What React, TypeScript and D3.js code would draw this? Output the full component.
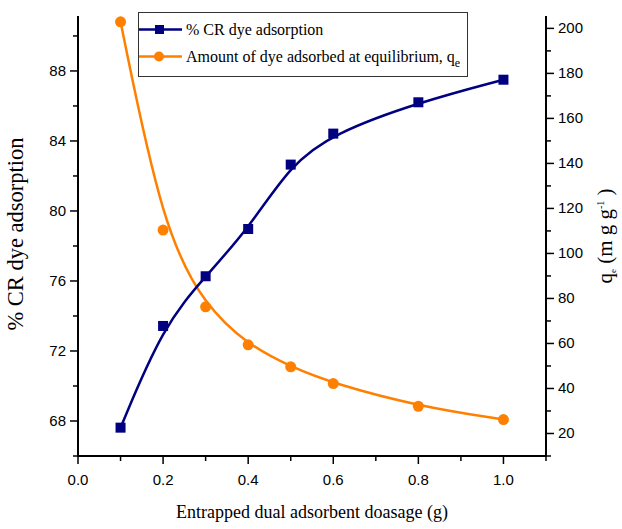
import React from "react";
import * as d3 from "d3";

const dosage = [0.1, 0.2, 0.3, 0.4, 0.5, 0.6, 0.8, 1.0];
const crAdsorption = [67.62, 73.43, 76.27, 78.97, 82.65, 84.42, 86.21, 87.5];
const qe = [202.9, 110.4, 76.3, 59.4, 49.6, 42.2, 32.1, 26.2];

const xTicks = [0, 0.2, 0.4, 0.6, 0.8, 1.0];
const xMinor = [0.1, 0.3, 0.5, 0.7, 0.9, 1.1];
const yLeftTicks = [68, 72, 76, 80, 84, 88];
const yLeftMinor = [66, 70, 74, 78, 82, 86, 90];
const yRightTicks = [20, 40, 60, 80, 100, 120, 140, 160, 180, 200];
const yRightMinor = [10, 30, 50, 70, 90, 110, 130, 150, 170, 190];

const BLUE = "#000080";
const ORANGE = "#FF8000";
const SANS = "'Liberation Sans', Arial, sans-serif";
const SERIF = "'Liberation Serif', 'Times New Roman', serif";

export default function App() {
  const L = 78, R = 546, T = 16, B = 456;
  const x = d3.scaleLinear().domain([0, 1.1]).range([L, R]);
  const yL = d3.scaleLinear().domain([66, 91.14]).range([B, T]);
  const yR = d3.scaleLinear().domain([10, 205.5]).range([B, T]);

  const blueLine = d3
    .line<number>()
    .x((_, i) => x(dosage[i]))
    .y((d) => yL(d))
    .curve(d3.curveBasis)(crAdsorption) as string;
  const orangeLine = d3
    .line<number>()
    .x((_, i) => x(dosage[i]))
    .y((d) => yR(d))
    .curve(d3.curveBasis)(qe) as string;

  const axisStroke = { stroke: "#000", strokeWidth: 2 };
  const fmt = d3.format(".1f");

  return (
    <svg
      width={622}
      height={529}
      style={{ position: "absolute", left: 0, top: 0, background: "#fff" }}
    >
      {/* axes lines */}
      <line x1={L} y1={T} x2={L} y2={B + 1} {...axisStroke} />
      <line x1={R} y1={T} x2={R} y2={B + 1} {...axisStroke} />
      <line x1={L - 1} y1={B} x2={R + 1} y2={B} {...axisStroke} />

      {/* x ticks */}
      {xTicks.map((t) => (
        <g key={"xt" + t}>
          <line x1={x(t)} x2={x(t)} y1={B} y2={B + 8} stroke="#000" strokeWidth={1.5} />
          <text x={x(t)} y={485} textAnchor="middle" fontFamily={SANS} fontSize={15}>
            {fmt(t)}
          </text>
        </g>
      ))}
      {xMinor.map((t) => (
        <line key={"xm" + t} x1={x(t)} x2={x(t)} y1={B} y2={B + 5} stroke="#000" strokeWidth={1.5} />
      ))}

      {/* left ticks */}
      {yLeftTicks.map((t) => (
        <g key={"yl" + t}>
          <line x1={L - 8} x2={L} y1={yL(t)} y2={yL(t)} stroke="#000" strokeWidth={1.5} />
          <text x={66} y={yL(t) + 5} textAnchor="end" fontFamily={SANS} fontSize={15}>
            {t}
          </text>
        </g>
      ))}
      {yLeftMinor.map((t) => (
        <line key={"ylm" + t} x1={L - 5} x2={L} y1={yL(t)} y2={yL(t)} stroke="#000" strokeWidth={1.5} />
      ))}

      {/* right ticks */}
      {yRightTicks.map((t) => (
        <g key={"yr" + t}>
          <line x1={R} x2={R + 8} y1={yR(t)} y2={yR(t)} stroke="#000" strokeWidth={1.5} />
          <text x={558} y={yR(t) + 5} textAnchor="start" fontFamily={SANS} fontSize={15}>
            {t}
          </text>
        </g>
      ))}
      {yRightMinor.map((t) => (
        <line key={"yrm" + t} x1={R} x2={R + 5} y1={yR(t)} y2={yR(t)} stroke="#000" strokeWidth={1.5} />
      ))}

      {/* curves */}
      <path d={orangeLine} fill="none" stroke={ORANGE} strokeWidth={2.5} />
      <path d={blueLine} fill="none" stroke={BLUE} strokeWidth={2.5} />

      {/* markers */}
      {qe.map((v, i) => (
        <circle key={"c" + i} cx={x(dosage[i])} cy={yR(v)} r={5.5} fill={ORANGE} />
      ))}
      {crAdsorption.map((v, i) => (
        <rect key={"s" + i} x={x(dosage[i]) - 5} y={yL(v) - 5} width={10} height={10} fill={BLUE} />
      ))}

      {/* legend */}
      <rect x={138.5} y={12.5} width={329} height={64} fill="#fff" stroke="#333" strokeWidth={1} />
      <line x1={139} x2={182} y1={29.5} y2={29.5} stroke={BLUE} strokeWidth={2.5} />
      <rect x={155} y={25} width={9} height={9} fill={BLUE} />
      <text x={186} y={35} fontFamily={SERIF} fontSize={16}>
        % CR dye adsorption
      </text>
      <line x1={139} x2={182} y1={56.5} y2={56.5} stroke={ORANGE} strokeWidth={2.5} />
      <circle cx={159} cy={56.5} r={5} fill={ORANGE} />
      <text x={186} y={62} fontFamily={SERIF} fontSize={16}>
        Amount of dye adsorbed at equilibrium, q
        <tspan fontSize={12} dy={5}>e</tspan>
      </text>

      {/* axis titles */}
      <text x={312} y={518} textAnchor="middle" fontFamily={SERIF} fontSize={18}>
        Entrapped dual adsorbent doasage (g)
      </text>
      <text
        transform="translate(23,234) rotate(-90)"
        textAnchor="middle"
        fontFamily={SERIF}
        fontSize={22.5}
      >
        % CR dye adsorption
      </text>
      <text
        transform="translate(612,236) rotate(-90)"
        textAnchor="middle"
        fontFamily={SERIF}
        fontSize={21}
      >
        q<tspan fontSize={9} dy={4}>e</tspan>
        <tspan dy={-4}> (m g g</tspan>
        <tspan fontSize={10} dy={-8}>-1</tspan>
        <tspan dy={8}> )</tspan>
      </text>
    </svg>
  );
}
